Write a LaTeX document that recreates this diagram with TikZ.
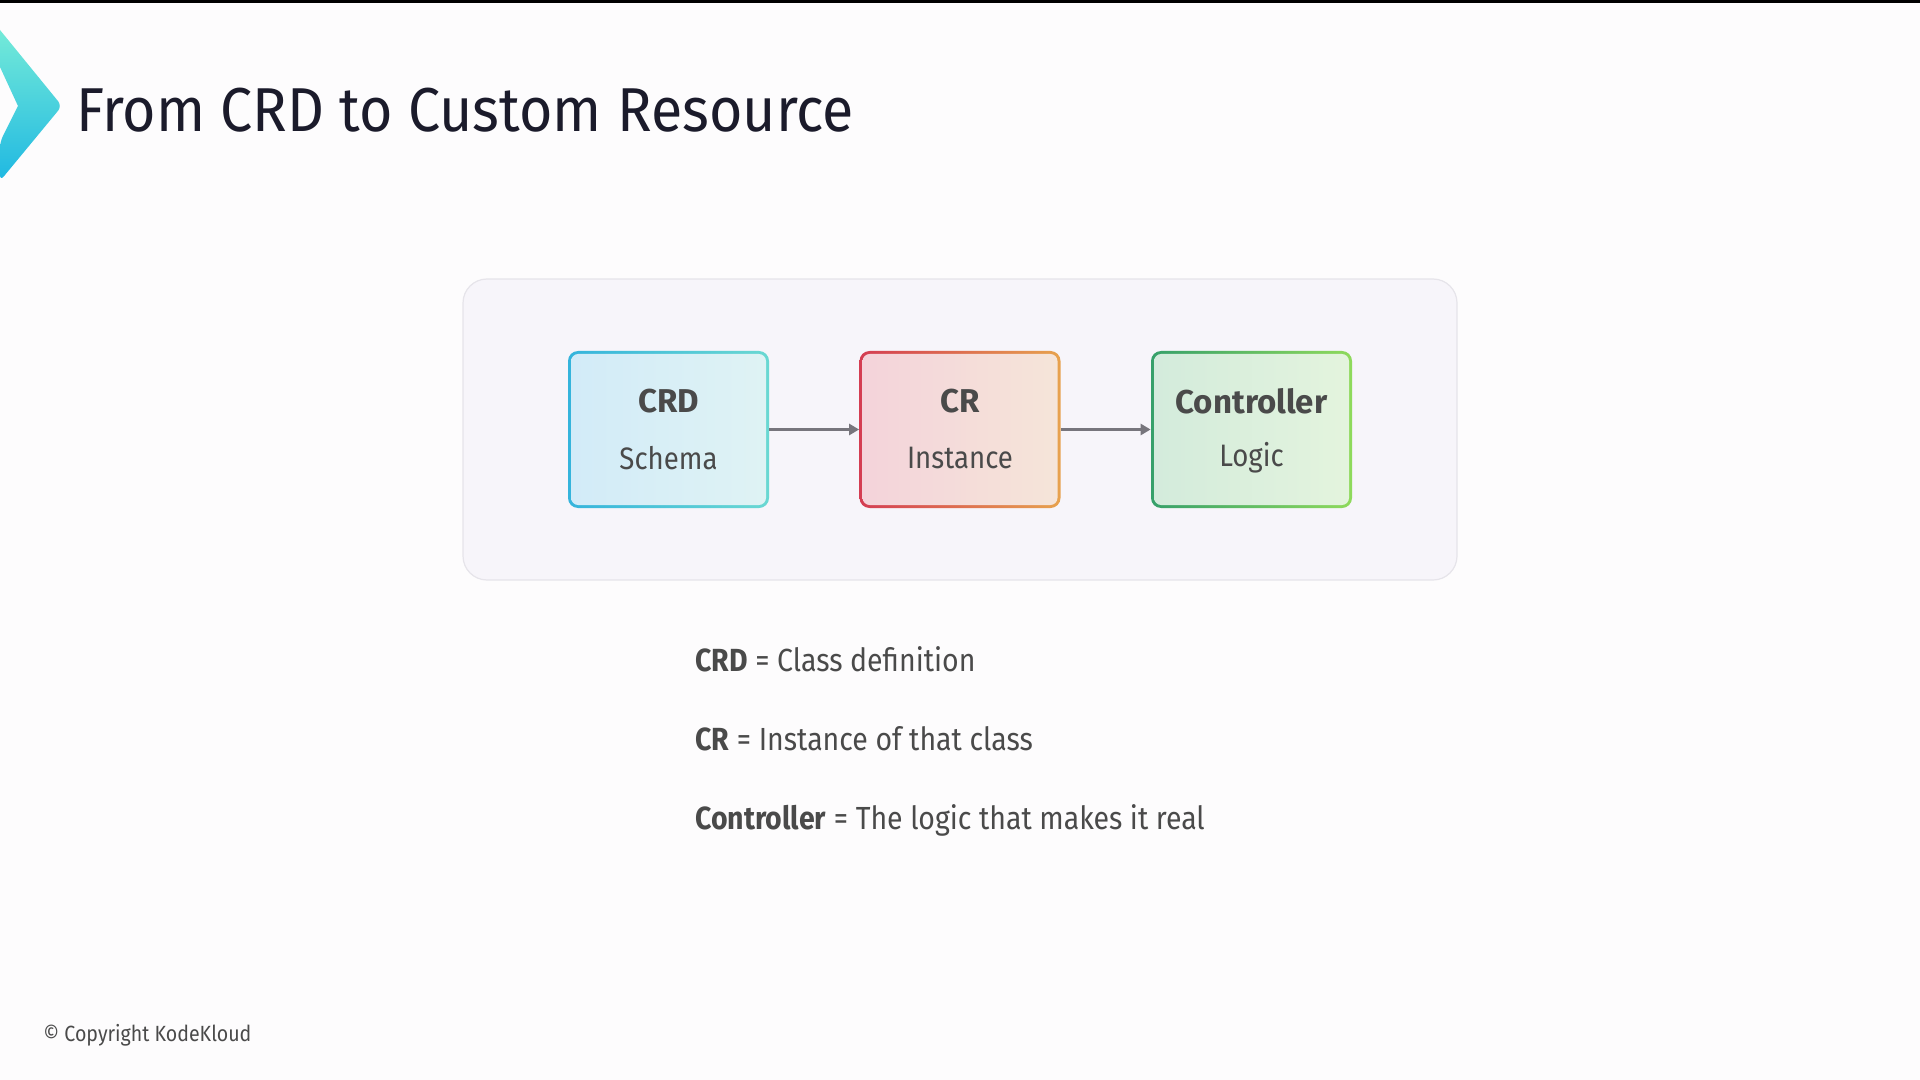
\documentclass[tikz,border=0pt]{standalone}
\usepackage{fontspec}
\setmainfont{Fira Sans}
\newfontfamily\titlefont[FakeStretch=0.925]{Fira Sans}
\newfontfamily\narrowfont[FakeStretch=0.89]{Fira Sans}
\usetikzlibrary{arrows.meta}
\definecolor{bgc}{HTML}{FDFCFD}
\definecolor{panelfill}{HTML}{F7F5FA}
\definecolor{paneldraw}{HTML}{E6E4EA}
\definecolor{titlec}{HTML}{1B1B2B}
\definecolor{textc}{HTML}{4A4A4A}
\definecolor{arrowc}{HTML}{77757C}
\definecolor{logoA}{HTML}{74EAD8}
\definecolor{logoB}{HTML}{1FB8E2}
\definecolor{crdbA}{HTML}{35B4DC}
\definecolor{crdbB}{HTML}{6AD8D2}
\definecolor{crdfA}{HTML}{D2EBF8}
\definecolor{crdfB}{HTML}{DFF3F4}
\definecolor{crbA}{HTML}{D43D52}
\definecolor{crbB}{HTML}{E7A24E}
\definecolor{crfA}{HTML}{F4D3DA}
\definecolor{crfB}{HTML}{F5E5D9}
\definecolor{ctbA}{HTML}{36A06A}
\definecolor{ctbB}{HTML}{8FDA5C}
\definecolor{ctfA}{HTML}{D3EBDC}
\definecolor{ctfB}{HTML}{E4F4DD}
\tikzset{
  card/.style n args={4}{minimum width=100.5pt, minimum height=78.5pt,
    inner sep=0pt, rounded corners=5pt, left color=#1, right color=#2,
    path picture={\shade[left color=#3, right color=#4, rounded corners=3.6pt]
      ([shift={(1.5pt,1.5pt)}]path picture bounding box.south west) rectangle
      ([shift={(-1.5pt,-1.5pt)}]path picture bounding box.north east);}},
  cardtitle/.style={font=\fontsize{16.5pt}{19pt}\selectfont\bfseries, text=textc, inner sep=0pt},
  cardsub/.style={font=\narrowfont\fontsize{15.5pt}{18pt}\selectfont, text=textc, inner sep=0pt},
  conn/.style={draw=arrowc, line width=1.5pt, -{Triangle[length=5pt,width=5.5pt]}},
  deftext/.style={font=\narrowfont\fontsize{16pt}{19pt}\selectfont, text=textc, anchor=base west, inner sep=0pt},
}
\begin{document}
\begin{tikzpicture}[x=0.5pt,y=-0.5pt]
\useasboundingbox (0,0) rectangle (1920,1080);
\fill[bgc] (0,0) rectangle (1920,1080);
\fill[black] (0,0) rectangle (1920,3);
% logo chevron
\shade[top color=logoA, bottom color=logoB, rounded corners=3pt]
  (0,30) -- (62,106) -- (0,181) -- (0,142) [sharp corners] -- (18,106) -- (0,67) -- cycle;
\node[anchor=base west, inner sep=0pt, text=titlec, font=\titlefont\fontsize{31pt}{36pt}\selectfont] (title) at (76,132) {From CRD to Custom Resource};
% panel
\node[draw=paneldraw, fill=panelfill, line width=0.6pt, rounded corners=12pt, minimum width=497pt, minimum height=150.5pt, inner sep=0pt] (panel) at (960,429.5) {};
% cards
\node[card={crdbA}{crdbB}{crdfA}{crdfB}] (crd) at (668.5,429.5) {};
\node[card={crbA}{crbB}{crfA}{crfB}] (cr) at (960,429.5) {};
\node[card={ctbA}{ctbB}{ctfA}{ctfB}] (ctl) at (1251.5,429.5) {};
\node[cardtitle] (crdT) at ([yshift=14.2pt]crd.center) {CRD};
\node[cardsub] (crdS) at ([yshift=-14.2pt]crd.center) {Schema};
\node[cardtitle] (crT) at ([yshift=14.2pt]cr.center) {CR};
\node[cardsub] (crS) at ([yshift=-14.2pt]cr.center) {Instance};
\node[cardtitle] (ctlT) at ([yshift=14.2pt]ctl.center) {Controller};
\node[cardsub] (ctlS) at ([yshift=-14.2pt]ctl.center) {Logic};
\draw[conn] (crd.east) -- (cr.west);
\draw[conn] (cr.east) -- (ctl.west);
% definitions
\node[deftext] (d1) at (695,671) {\textbf{CRD} = Class definition};
\node[deftext] (d2) at (695,750) {\textbf{CR} = Instance of that class};
\node[deftext] (d3) at (695,829) {\textbf{Controller} = The logic that makes it real};
\node[anchor=base west, inner sep=0pt, text=textc, font=\narrowfont\fontsize{11pt}{13pt}\selectfont] (copy) at (43,1041) {\textcopyright{} Copyright KodeKloud};
\end{tikzpicture}
\end{document}
